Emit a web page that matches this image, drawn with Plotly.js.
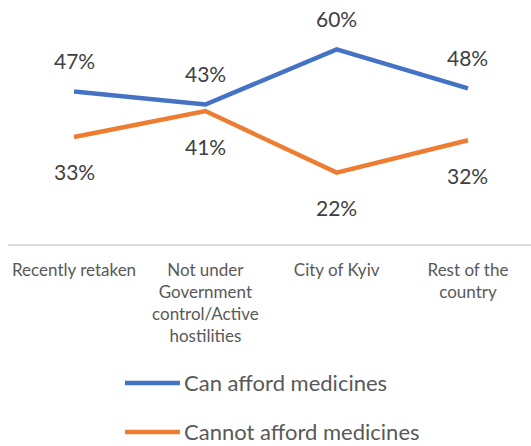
<!DOCTYPE html>
<html>
<head>
<meta charset="utf-8">
<script src="https://cdn.plot.ly/plotly-3.0.1.min.js"></script>
<style>html,body{margin:0;padding:0;background:#fff;}#chart{width:531px;height:446px;}</style>
</head>
<body>
<div id="chart"></div>
<script>
var categories = ["Recently retaken", "Not under<br>Government<br>control/Active<br>hostilities", "City of Kyiv", "Rest of the<br>country"];
var canAfford = [47, 43, 60, 48];
var cannotAfford = [33, 41, 22, 32];
var seriesNames = ["Can afford medicines", "Cannot afford medicines"];
var colors = ["#4472C4", "#ED7D31"];

var xIdx = categories.map(function(_, i){ return i; });
var FONT = "Lato, 'Open Sans', sans-serif";
var GREY = "#595959";

var traces = [
  {x: xIdx, y: canAfford, name: seriesNames[0], mode: "lines",
   line: {color: colors[0], width: 4.5}, hoverinfo: "skip", showlegend: false},
  {x: xIdx, y: cannotAfford, name: seriesNames[1], mode: "lines",
   line: {color: colors[1], width: 4.5}, hoverinfo: "skip", showlegend: false}
];

var annotations = [];
canAfford.forEach(function(v, i){
  annotations.push({x: i, y: v, xref: "x", yref: "y", text: v + "%", showarrow: false,
    yanchor: "middle", yshift: 31, font: {family: FONT, size: 21, color: "#404040"}});
});
cannotAfford.forEach(function(v, i){
  annotations.push({x: i, y: v, xref: "x", yref: "y", text: v + "%", showarrow: false,
    yanchor: "middle", yshift: -35, font: {family: FONT, size: 21, color: "#404040"}});
});

// Legend (drawn manually so that spacing matches)
var legendY = [-0.612, -0.828];
var shapes = [];
seriesNames.forEach(function(name, k){
  shapes.push({type: "line", xref: "paper", yref: "paper", x0: 0.2237, x1: 0.3289,
    y0: legendY[k], y1: legendY[k], line: {color: colors[k], width: 4.5}});
  annotations.push({xref: "paper", yref: "paper", x: 0.3325, y: legendY[k], xanchor: "left",
    yanchor: "middle", text: name, showarrow: false, font: {family: FONT, size: 22, color: GREY}});
});

var layout = {
  width: 531, height: 446,
  margin: {l: 8, r: 0, t: 17, b: 202},
  paper_bgcolor: "#fff", plot_bgcolor: "#fff",
  font: {family: FONT, color: GREY},
  xaxis: {range: [-0.503, 3.48], tickmode: "array", tickvals: xIdx, ticktext: categories,
    showgrid: false, zeroline: false, showline: true, linecolor: "#D9D9D9", linewidth: 1.5,
    ticks: "", ticklabelstandoff: 10, tickfont: {family: FONT, size: 17, color: GREY}, fixedrange: true},
  yaxis: {range: [0, 70], visible: false, showgrid: false, zeroline: false, fixedrange: true},
  showlegend: false,
  shapes: shapes,
  annotations: annotations
};

Plotly.newPlot("chart", traces, layout, {displayModeBar: false, staticPlot: true});
</script>
</body>
</html>
